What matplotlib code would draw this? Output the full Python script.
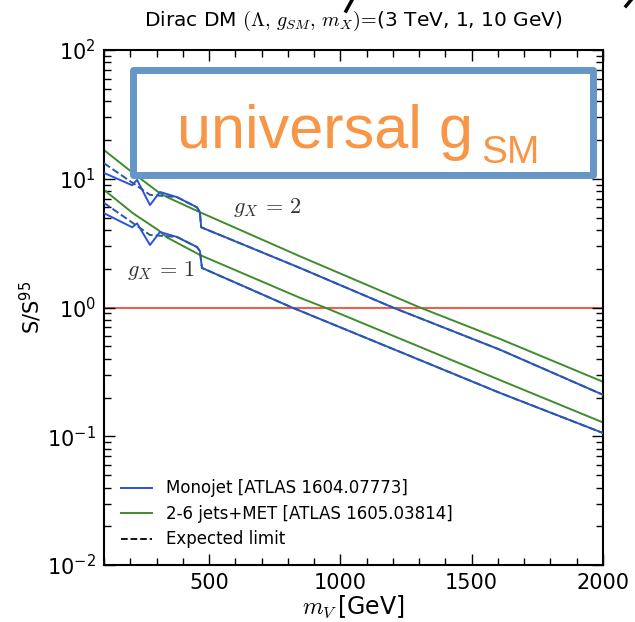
import numpy as np
import matplotlib
matplotlib.use("Agg")
import matplotlib.pyplot as plt
from matplotlib.lines import Line2D
from matplotlib.patches import Rectangle
from matplotlib.ticker import MultipleLocator, LogLocator

plt.rcParams['font.family'] = ['DejaVu Sans']
plt.rcParams['mathtext.fontset'] = 'dejavusans'

# --- limits S/S95 vs mediator mass, Dirac DM ---
# monojet (observed), g_X = 2 and g_X = 1
mono_g2_m = [100, 207, 226, 275, 313, 378, 454, 465, 470, 846, 1200, 1608, 2000]
mono_g2 = [11.1, 8.9, 9.8, 6.25, 7.9, 7.2, 6.0, 5.5, 4.2, 2.03, 1.0, 0.47, 0.21]
mono_g1_m = [100, 207, 226, 275, 313, 378, 454, 465, 473, 816, 1608, 2000]
mono_g1 = [5.4, 4.2, 4.5, 3.06, 3.86, 3.53, 2.95, 2.75, 2.03, 1.0, 0.217, 0.106]

# monojet expected
mono_exp_g2_m = [100, 275, 378, 454, 465, 470, 846, 1200, 1608, 2000]
mono_exp_g2 = [13.2, 7.5, 7.2, 6.0, 5.5, 4.2, 2.03, 1.0, 0.47, 0.21]
mono_exp_g1_m = [100, 275, 378, 454, 465, 473, 816, 1608, 2000]
mono_exp_g1 = [6.5, 3.66, 3.53, 2.95, 2.75, 2.03, 1.0, 0.217, 0.106]

# 2-6 jets + MET
jets_g2_m = [100, 210, 306, 340, 465, 846, 1303, 1608, 2000]
jets_g2 = [16.7, 11.1, 7.9, 7.2, 5.5, 2.5, 1.0, 0.57, 0.265]
jets_g1_m = [100, 210, 306, 340, 465, 846, 941, 1608, 2000]
jets_g1 = [8.2, 5.4, 4.0, 3.5, 2.56, 1.19, 1.0, 0.273, 0.128]

BLUE = '#2b52e0'
GREEN = '#3f8c2c'
RED = '#f0604e'

fig = plt.figure(figsize=(6.35, 6.22), dpi=100)
ax = fig.add_axes([0.1638, 0.0916, 0.7858, 0.828])

ax.axhline(1.0, color=RED, lw=1.5, zorder=1)
for m, s in [(jets_g2_m, jets_g2), (jets_g1_m, jets_g1)]:
    ax.plot(m, s, color=GREEN, lw=1.4, zorder=2)
for m, s in [(mono_g2_m, mono_g2), (mono_g1_m, mono_g1)]:
    ax.plot(m, s, color=BLUE, lw=1.4, zorder=3)
for m, s in [(mono_exp_g2_m, mono_exp_g2), (mono_exp_g1_m, mono_exp_g1)]:
    ax.plot(m, s, color='#2a5a9a', lw=1.4, ls='--', zorder=4)

ax.set_yscale('log')
ax.set_xlim(100, 2000)
ax.set_ylim(1e-2, 1e2)
ax.xaxis.set_major_locator(MultipleLocator(500))
ax.xaxis.set_minor_locator(MultipleLocator(100))
ax.yaxis.set_minor_locator(LogLocator(base=10, subs=np.arange(2, 10)))
ax.tick_params(which='both', direction='in', top=True, right=True, width=1.0)
ax.tick_params(which='major', length=8, labelsize=15, pad=6)
ax.tick_params(which='minor', length=5)
for sp in ax.spines.values():
    sp.set_linewidth(1.5)

ax.text(590, 6.0, r'$g_X\,=\,2$', fontsize=16, math_fontfamily='cm', color='#333333',
        va='center')
ax.text(188, 1.95, r'$g_X\,=\,1$', fontsize=16, math_fontfamily='cm', color='#333333',
        va='center')

ax.set_title(r'Dirac DM $(\Lambda,\, g_{SM},\, m_X)\!=\!$(3 TeV, 1, 10 GeV)',
             fontsize=14.5, math_fontfamily='cm', pad=17)
ax.set_xlabel(r'$m_V\,$[GeV]', fontsize=17, math_fontfamily='cm', labelpad=0)
ax.set_ylabel(r'S/S$^{95}$', fontsize=15, labelpad=2)

handles = [Line2D([], [], color=BLUE, lw=1.4),
           Line2D([], [], color=GREEN, lw=1.4),
           Line2D([], [], color='black', lw=1.3, ls='--')]
labels = ['Monojet [ATLAS 1604.07773]', '2-6 jets+MET [ATLAS 1605.03814]', 'Expected limit']
ax.legend(handles, labels, loc='lower left', frameon=False, fontsize=12,
          handlelength=1.9, borderaxespad=0.6, labelspacing=0.45)

# overlay box with caption
W, H = 635.0, 622.0
box = Rectangle((133 / W, 1 - 175 / H), 460 / W, 105 / H, transform=fig.transFigure,
                facecolor='white', edgecolor='#6496c8', lw=5, joinstyle='round', zorder=10)
fig.add_artist(box)
fig.text(177 / W, 1 - 148 / H, 'universal g', fontsize=44, family='Liberation Sans',
         color='#f79646', va='baseline', ha='left', zorder=11)
fig.text(481 / W, 1 - 163 / H, 'SM', fontsize=28, family='Liberation Sans',
         color='#f79646', va='baseline', ha='left', zorder=11)

# strokes along top edge
fig.add_artist(Line2D([352 / W, 346 / W], [1.0, 1 - 11 / H], color='black', lw=2.5,
                      transform=fig.transFigure))
fig.add_artist(Line2D([631 / W, 626 / W], [1.0, 1 - 6 / H], color='black', lw=2.5,
                      transform=fig.transFigure))

fig.savefig('out.png', dpi=100)
